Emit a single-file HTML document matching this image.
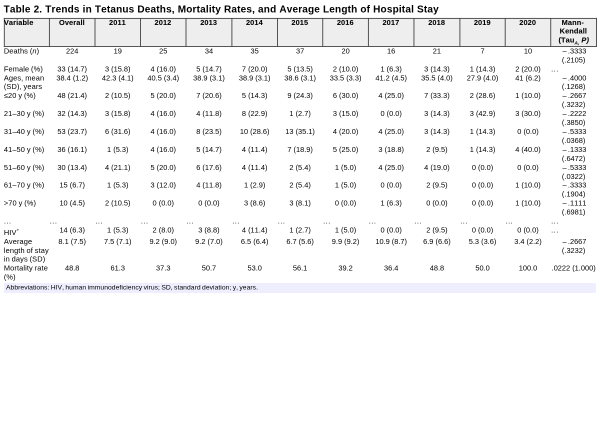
<!DOCTYPE html>
<html>
<head>
<meta charset="utf-8">
<title>Table 2</title>
<style>
html,body{margin:0;padding:0;background:#fff;}
body{width:600px;height:436px;position:relative;overflow:hidden;font-family:"Liberation Sans",sans-serif;color:#000;font-kerning:none;}
.footbg{position:absolute;left:3.9px;top:282.55px;width:592.4px;height:10.25px;background:#eeeefe;}
.lay{will-change:transform;position:absolute;overflow:hidden;transform-origin:0 0;transform:scale(0.5);}
.lay div,.lay svg{position:absolute;}
.lay svg{left:0;top:0;}
.title{font-size:20px;font-weight:bold;white-space:pre;color:#000;letter-spacing:0.36px;line-height:22px;}
.hd{-webkit-text-stroke:0.1px #000;font-weight:bold;font-size:14.8px;line-height:16px;text-align:center;color:#000;white-space:nowrap;letter-spacing:0.2px;}
.hd.first{text-align:left;}
.hd sub{font-size:9.2px;vertical-align:-3.6px;line-height:0;font-style:italic;}
.c{-webkit-text-stroke:0px #000;font-size:14.8px;line-height:16px;text-align:center;white-space:nowrap;letter-spacing:0px;}
.c.l{text-align:left;letter-spacing:0.24px;word-spacing:-0.7px;}
.c.d{letter-spacing:1px;}
.c sup{font-size:9.6px;vertical-align:6.8px;line-height:0;}
.m{letter-spacing:2.6px;}
.ft{font-size:13.5px;line-height:15px;white-space:pre;letter-spacing:0.08px;word-spacing:-1.1px;}
</style>
</head>
<body>
<div class="footbg"></div>
<div class="lay" style="left:0px;top:17px;width:186px;height:222px">
<svg width="186" height="222" viewBox="0 17 93 111"><rect x="4.3" y="18.4" width="88.7" height="28.05" fill="#eeeeee"/><rect x="3.85" y="17.95" width="89.15" height="0.9" fill="#444444"/><rect x="3.85" y="46" width="89.15" height="0.9" fill="#444444"/><rect x="3.85" y="17.95" width="0.9" height="28.95" fill="#444444"/><rect x="48.95" y="17.95" width="0.9" height="28.95" fill="#444444"/></svg>
<div class="hd first" style="left:7.7px;top:3px;width:90.2px">Variable</div>
<div class="hd" style="left:98.2px;top:3px;width:91.2px">Overall</div>
<div class="c l" style="left:7.7px;top:60px;width:90.2px">Deaths (<i>n</i>)</div>
<div class="c" style="left:98.8px;top:60px;width:91.2px">224</div>
<div class="c l" style="left:7.7px;top:96px;width:90.2px">Female (%)</div>
<div class="c" style="left:98.8px;top:96px;width:91.2px">33 (14.7)</div>
<div class="c l" style="left:7.7px;top:114px;width:90.2px">Ages, mean</div>
<div class="c l" style="left:7.7px;top:131px;width:90.2px">(SD), years</div>
<div class="c" style="left:98.8px;top:114px;width:91.2px">38.4 (1.2)</div>
<div class="c l" style="left:7.7px;top:149px;width:90.2px">&le;20 y (%)</div>
<div class="c" style="left:98.8px;top:149px;width:91.2px">48 (21.4)</div>
<div class="c l" style="left:7.7px;top:185px;width:90.2px">21&ndash;30 y (%)</div>
<div class="c" style="left:98.8px;top:185px;width:91.2px">32 (14.3)</div>
</div>
<div class="lay" style="left:0px;top:127px;width:186px;height:182px">
<div class="c l" style="left:7.7px;top:1px;width:90.2px">31&ndash;40 y (%)</div>
<div class="c" style="left:98.8px;top:1px;width:91.2px">53 (23.7)</div>
<div class="c l" style="left:7.7px;top:37px;width:90.2px">41&ndash;50 y (%)</div>
<div class="c" style="left:98.8px;top:37px;width:91.2px">36 (16.1)</div>
<div class="c l" style="left:7.7px;top:73px;width:90.2px">51&ndash;60 y (%)</div>
<div class="c" style="left:98.8px;top:73px;width:91.2px">30 (13.4)</div>
<div class="c l" style="left:7.7px;top:108px;width:90.2px">61&ndash;70 y (%)</div>
<div class="c" style="left:98.8px;top:108px;width:91.2px">15 (6.7)</div>
<div class="c l" style="left:7.7px;top:144px;width:90.2px">&gt;70 y (%)</div>
<div class="c" style="left:98.8px;top:144px;width:91.2px">10 (4.5)</div>
</div>
<div class="lay" style="left:0px;top:216px;width:186px;height:134px">
<div class="c l d" style="left:7.7px;top:2px;width:90.2px">...</div>
<div class="c l d" style="left:99.5px;top:2px;width:91.2px">...</div>
<div class="c l" style="left:7.7px;top:25px;width:90.2px">HIV<sup>+</sup></div>
<div class="c" style="left:98.8px;top:20px;width:91.2px">14 (6.3)</div>
<div class="c l" style="left:7.7px;top:43px;width:90.2px">Average</div>
<div class="c l" style="left:7.7px;top:61px;width:90.2px">length of stay</div>
<div class="c l" style="left:7.7px;top:78px;width:90.2px">in days (SD)</div>
<div class="c" style="left:98.8px;top:43px;width:91.2px">8.1 (7.5)</div>
<div class="c l" style="left:7.7px;top:96px;width:90.2px">Mortality rate</div>
<div class="c l" style="left:7.7px;top:114px;width:90.2px">(%)</div>
<div class="c" style="left:98.8px;top:96px;width:91.2px">48.8</div>
</div>
<div class="lay" style="left:93px;top:17px;width:182px;height:222px">
<svg width="182" height="222" viewBox="93 17 91 111"><rect x="93" y="18.4" width="91" height="28.05" fill="#eeeeee"/><rect x="93" y="17.95" width="91" height="0.9" fill="#444444"/><rect x="93" y="46" width="91" height="0.9" fill="#444444"/><rect x="94.55" y="17.95" width="0.9" height="28.95" fill="#444444"/><rect x="140.05" y="17.95" width="0.9" height="28.95" fill="#444444"/></svg>
<div class="hd" style="left:3.4px;top:3px;width:91px">2011</div>
<div class="hd" style="left:94.4px;top:3px;width:91px">2012</div>
<div class="c" style="left:4px;top:60px;width:91px">19</div>
<div class="c" style="left:95px;top:60px;width:91px">25</div>
<div class="c" style="left:4px;top:96px;width:91px">3 (15.8)</div>
<div class="c" style="left:95px;top:96px;width:91px">4 (16.0)</div>
<div class="c" style="left:4px;top:114px;width:91px">42.3 (4.1)</div>
<div class="c" style="left:95px;top:114px;width:91px">40.5 (3.4)</div>
<div class="c" style="left:4px;top:149px;width:91px">2 (10.5)</div>
<div class="c" style="left:95px;top:149px;width:91px">5 (20.0)</div>
<div class="c" style="left:4px;top:185px;width:91px">3 (15.8)</div>
<div class="c" style="left:95px;top:185px;width:91px">4 (16.0)</div>
</div>
<div class="lay" style="left:93px;top:127px;width:182px;height:182px">
<div class="c" style="left:4px;top:1px;width:91px">6 (31.6)</div>
<div class="c" style="left:95px;top:1px;width:91px">4 (16.0)</div>
<div class="c" style="left:4px;top:37px;width:91px">1 (5.3)</div>
<div class="c" style="left:95px;top:37px;width:91px">4 (16.0)</div>
<div class="c" style="left:4px;top:73px;width:91px">4 (21.1)</div>
<div class="c" style="left:95px;top:73px;width:91px">5 (20.0)</div>
<div class="c" style="left:4px;top:108px;width:91px">1 (5.3)</div>
<div class="c" style="left:95px;top:108px;width:91px">3 (12.0)</div>
<div class="c" style="left:4px;top:144px;width:91px">2 (10.5)</div>
<div class="c" style="left:95px;top:144px;width:91px">0 (0.0)</div>
</div>
<div class="lay" style="left:93px;top:216px;width:182px;height:134px">
<div class="c l d" style="left:4.7px;top:2px;width:91px">...</div>
<div class="c l d" style="left:95.7px;top:2px;width:91px">...</div>
<div class="c" style="left:4px;top:20px;width:91px">1 (5.3)</div>
<div class="c" style="left:95px;top:20px;width:91px">2 (8.0)</div>
<div class="c" style="left:4px;top:43px;width:91px">7.5 (7.1)</div>
<div class="c" style="left:95px;top:43px;width:91px">9.2 (9.0)</div>
<div class="c" style="left:4px;top:96px;width:91px">61.3</div>
<div class="c" style="left:95px;top:96px;width:91px">37.3</div>
</div>
<div class="lay" style="left:184px;top:17px;width:182px;height:222px">
<svg width="182" height="222" viewBox="184 17 91 111"><rect x="184" y="18.4" width="91" height="28.05" fill="#eeeeee"/><rect x="184" y="17.95" width="91" height="0.9" fill="#444444"/><rect x="184" y="46" width="91" height="0.9" fill="#444444"/><rect x="185.55" y="17.95" width="0.9" height="28.95" fill="#444444"/><rect x="231.45" y="17.95" width="0.9" height="28.95" fill="#444444"/></svg>
<div class="hd" style="left:3.4px;top:3px;width:91.8px">2013</div>
<div class="hd" style="left:95.2px;top:3px;width:91.1px">2014</div>
<div class="c" style="left:4px;top:60px;width:91.8px">34</div>
<div class="c" style="left:95.8px;top:60px;width:91.1px">35</div>
<div class="c" style="left:4px;top:96px;width:91.8px">5 (14.7)</div>
<div class="c" style="left:95.8px;top:96px;width:91.1px">7 (20.0)</div>
<div class="c" style="left:4px;top:114px;width:91.8px">38.9 (3.1)</div>
<div class="c" style="left:95.8px;top:114px;width:91.1px">38.9 (3.1)</div>
<div class="c" style="left:4px;top:149px;width:91.8px">7 (20.6)</div>
<div class="c" style="left:95.8px;top:149px;width:91.1px">5 (14.3)</div>
<div class="c" style="left:4px;top:185px;width:91.8px">4 (11.8)</div>
<div class="c" style="left:95.8px;top:185px;width:91.1px">8 (22.9)</div>
</div>
<div class="lay" style="left:184px;top:127px;width:182px;height:182px">
<div class="c" style="left:4px;top:1px;width:91.8px">8 (23.5)</div>
<div class="c" style="left:95.8px;top:1px;width:91.1px">10 (28.6)</div>
<div class="c" style="left:4px;top:37px;width:91.8px">5 (14.7)</div>
<div class="c" style="left:95.8px;top:37px;width:91.1px">4 (11.4)</div>
<div class="c" style="left:4px;top:73px;width:91.8px">6 (17.6)</div>
<div class="c" style="left:95.8px;top:73px;width:91.1px">4 (11.4)</div>
<div class="c" style="left:4px;top:108px;width:91.8px">4 (11.8)</div>
<div class="c" style="left:95.8px;top:108px;width:91.1px">1 (2.9)</div>
<div class="c" style="left:4px;top:144px;width:91.8px">0 (0.0)</div>
<div class="c" style="left:95.8px;top:144px;width:91.1px">3 (8.6)</div>
</div>
<div class="lay" style="left:184px;top:216px;width:182px;height:134px">
<div class="c l d" style="left:4.7px;top:2px;width:91.8px">...</div>
<div class="c l d" style="left:96.5px;top:2px;width:91.1px">...</div>
<div class="c" style="left:4px;top:20px;width:91.8px">3 (8.8)</div>
<div class="c" style="left:95.8px;top:20px;width:91.1px">4 (11.4)</div>
<div class="c" style="left:4px;top:43px;width:91.8px">9.2 (7.0)</div>
<div class="c" style="left:95.8px;top:43px;width:91.1px">6.5 (6.4)</div>
<div class="c" style="left:4px;top:96px;width:91.8px">50.7</div>
<div class="c" style="left:95.8px;top:96px;width:91.1px">53.0</div>
</div>
<div class="lay" style="left:275px;top:17px;width:182px;height:222px">
<svg width="182" height="222" viewBox="275 17 91 111"><rect x="275" y="18.4" width="91" height="28.05" fill="#eeeeee"/><rect x="275" y="17.95" width="91" height="0.9" fill="#444444"/><rect x="275" y="46" width="91" height="0.9" fill="#444444"/><rect x="277" y="17.95" width="0.9" height="28.95" fill="#444444"/><rect x="322.3" y="17.95" width="0.9" height="28.95" fill="#444444"/></svg>
<div class="hd" style="left:4.3px;top:3px;width:90.6px">2015</div>
<div class="hd" style="left:94.9px;top:3px;width:91.3px">2016</div>
<div class="c" style="left:4.9px;top:60px;width:90.6px">37</div>
<div class="c" style="left:95.5px;top:60px;width:91.3px">20</div>
<div class="c" style="left:4.9px;top:96px;width:90.6px">5 (13.5)</div>
<div class="c" style="left:95.5px;top:96px;width:91.3px">2 (10.0)</div>
<div class="c" style="left:4.9px;top:114px;width:90.6px">38.6 (3.1)</div>
<div class="c" style="left:95.5px;top:114px;width:91.3px">33.5 (3.3)</div>
<div class="c" style="left:4.9px;top:149px;width:90.6px">9 (24.3)</div>
<div class="c" style="left:95.5px;top:149px;width:91.3px">6 (30.0)</div>
<div class="c" style="left:4.9px;top:185px;width:90.6px">1 (2.7)</div>
<div class="c" style="left:95.5px;top:185px;width:91.3px">3 (15.0)</div>
</div>
<div class="lay" style="left:275px;top:127px;width:182px;height:182px">
<div class="c" style="left:4.9px;top:1px;width:90.6px">13 (35.1)</div>
<div class="c" style="left:95.5px;top:1px;width:91.3px">4 (20.0)</div>
<div class="c" style="left:4.9px;top:37px;width:90.6px">7 (18.9)</div>
<div class="c" style="left:95.5px;top:37px;width:91.3px">5 (25.0)</div>
<div class="c" style="left:4.9px;top:73px;width:90.6px">2 (5.4)</div>
<div class="c" style="left:95.5px;top:73px;width:91.3px">1 (5.0)</div>
<div class="c" style="left:4.9px;top:108px;width:90.6px">2 (5.4)</div>
<div class="c" style="left:95.5px;top:108px;width:91.3px">1 (5.0)</div>
<div class="c" style="left:4.9px;top:144px;width:90.6px">3 (8.1)</div>
<div class="c" style="left:95.5px;top:144px;width:91.3px">0 (0.0)</div>
</div>
<div class="lay" style="left:275px;top:216px;width:182px;height:134px">
<div class="c l d" style="left:5.6px;top:2px;width:90.6px">...</div>
<div class="c l d" style="left:96.2px;top:2px;width:91.3px">...</div>
<div class="c" style="left:4.9px;top:20px;width:90.6px">1 (2.7)</div>
<div class="c" style="left:95.5px;top:20px;width:91.3px">1 (5.0)</div>
<div class="c" style="left:4.9px;top:43px;width:90.6px">6.7 (5.6)</div>
<div class="c" style="left:95.5px;top:43px;width:91.3px">9.9 (9.2)</div>
<div class="c" style="left:4.9px;top:96px;width:90.6px">56.1</div>
<div class="c" style="left:95.5px;top:96px;width:91.3px">39.2</div>
</div>
<div class="lay" style="left:366px;top:17px;width:182px;height:222px">
<svg width="182" height="222" viewBox="366 17 91 111"><rect x="366" y="18.4" width="91" height="28.05" fill="#eeeeee"/><rect x="366" y="17.95" width="91" height="0.9" fill="#444444"/><rect x="366" y="46" width="91" height="0.9" fill="#444444"/><rect x="367.95" y="17.95" width="0.9" height="28.95" fill="#444444"/><rect x="413.5" y="17.95" width="0.9" height="28.95" fill="#444444"/></svg>
<div class="hd" style="left:4.2px;top:3px;width:91.1px">2017</div>
<div class="hd" style="left:95.3px;top:3px;width:91.9px">2018</div>
<div class="c" style="left:4.8px;top:60px;width:91.1px">16</div>
<div class="c" style="left:95.9px;top:60px;width:91.9px">21</div>
<div class="c" style="left:4.8px;top:96px;width:91.1px">1 (6.3)</div>
<div class="c" style="left:95.9px;top:96px;width:91.9px">3 (14.3)</div>
<div class="c" style="left:4.8px;top:114px;width:91.1px">41.2 (4.5)</div>
<div class="c" style="left:95.9px;top:114px;width:91.9px">35.5 (4.0)</div>
<div class="c" style="left:4.8px;top:149px;width:91.1px">4 (25.0)</div>
<div class="c" style="left:95.9px;top:149px;width:91.9px">7 (33.3)</div>
<div class="c" style="left:4.8px;top:185px;width:91.1px">0 (0.0)</div>
<div class="c" style="left:95.9px;top:185px;width:91.9px">3 (14.3)</div>
</div>
<div class="lay" style="left:366px;top:127px;width:182px;height:182px">
<div class="c" style="left:4.8px;top:1px;width:91.1px">4 (25.0)</div>
<div class="c" style="left:95.9px;top:1px;width:91.9px">3 (14.3)</div>
<div class="c" style="left:4.8px;top:37px;width:91.1px">3 (18.8)</div>
<div class="c" style="left:95.9px;top:37px;width:91.9px">2 (9.5)</div>
<div class="c" style="left:4.8px;top:73px;width:91.1px">4 (25.0)</div>
<div class="c" style="left:95.9px;top:73px;width:91.9px">4 (19.0)</div>
<div class="c" style="left:4.8px;top:108px;width:91.1px">0 (0.0)</div>
<div class="c" style="left:95.9px;top:108px;width:91.9px">2 (9.5)</div>
<div class="c" style="left:4.8px;top:144px;width:91.1px">1 (6.3)</div>
<div class="c" style="left:95.9px;top:144px;width:91.9px">0 (0.0)</div>
</div>
<div class="lay" style="left:366px;top:216px;width:182px;height:134px">
<div class="c l d" style="left:5.5px;top:2px;width:91.1px">...</div>
<div class="c l d" style="left:96.6px;top:2px;width:91.9px">...</div>
<div class="c" style="left:4.8px;top:20px;width:91.1px">0 (0.0)</div>
<div class="c" style="left:95.9px;top:20px;width:91.9px">2 (9.5)</div>
<div class="c" style="left:4.8px;top:43px;width:91.1px">10.9 (8.7)</div>
<div class="c" style="left:95.9px;top:43px;width:91.9px">6.9 (6.6)</div>
<div class="c" style="left:4.8px;top:96px;width:91.1px">36.4</div>
<div class="c" style="left:95.9px;top:96px;width:91.9px">48.8</div>
</div>
<div class="lay" style="left:457px;top:17px;width:182px;height:222px">
<svg width="182" height="222" viewBox="457 17 91 111"><rect x="457" y="18.4" width="91" height="28.05" fill="#eeeeee"/><rect x="457" y="17.95" width="91" height="0.9" fill="#444444"/><rect x="457" y="46" width="91" height="0.9" fill="#444444"/><rect x="459.45" y="17.95" width="0.9" height="28.95" fill="#444444"/><rect x="504.75" y="17.95" width="0.9" height="28.95" fill="#444444"/></svg>
<div class="hd" style="left:5.2px;top:3px;width:90.6px">2019</div>
<div class="hd" style="left:95.8px;top:3px;width:91.1px">2020</div>
<div class="c" style="left:5.8px;top:60px;width:90.6px">7</div>
<div class="c" style="left:96.4px;top:60px;width:91.1px">10</div>
<div class="c" style="left:5.8px;top:96px;width:90.6px">1 (14.3)</div>
<div class="c" style="left:96.4px;top:96px;width:91.1px">2 (20.0)</div>
<div class="c" style="left:5.8px;top:114px;width:90.6px">27.9 (4.0)</div>
<div class="c" style="left:96.4px;top:114px;width:91.1px">41 (6.2)</div>
<div class="c" style="left:5.8px;top:149px;width:90.6px">2 (28.6)</div>
<div class="c" style="left:96.4px;top:149px;width:91.1px">1 (10.0)</div>
<div class="c" style="left:5.8px;top:185px;width:90.6px">3 (42.9)</div>
<div class="c" style="left:96.4px;top:185px;width:91.1px">3 (30.0)</div>
</div>
<div class="lay" style="left:457px;top:127px;width:182px;height:182px">
<div class="c" style="left:5.8px;top:1px;width:90.6px">1 (14.3)</div>
<div class="c" style="left:96.4px;top:1px;width:91.1px">0 (0.0)</div>
<div class="c" style="left:5.8px;top:37px;width:90.6px">1 (14.3)</div>
<div class="c" style="left:96.4px;top:37px;width:91.1px">4 (40.0)</div>
<div class="c" style="left:5.8px;top:73px;width:90.6px">0 (0.0)</div>
<div class="c" style="left:96.4px;top:73px;width:91.1px">0 (0.0)</div>
<div class="c" style="left:5.8px;top:108px;width:90.6px">0 (0.0)</div>
<div class="c" style="left:96.4px;top:108px;width:91.1px">1 (10.0)</div>
<div class="c" style="left:5.8px;top:144px;width:90.6px">0 (0.0)</div>
<div class="c" style="left:96.4px;top:144px;width:91.1px">1 (10.0)</div>
</div>
<div class="lay" style="left:457px;top:216px;width:182px;height:134px">
<div class="c l d" style="left:6.5px;top:2px;width:90.6px">...</div>
<div class="c l d" style="left:97.1px;top:2px;width:91.1px">...</div>
<div class="c" style="left:5.8px;top:20px;width:90.6px">0 (0.0)</div>
<div class="c" style="left:96.4px;top:20px;width:91.1px">0 (0.0)</div>
<div class="c" style="left:5.8px;top:43px;width:90.6px">5.3 (3.6)</div>
<div class="c" style="left:96.4px;top:43px;width:91.1px">3.4 (2.2)</div>
<div class="c" style="left:5.8px;top:96px;width:90.6px">50.0</div>
<div class="c" style="left:96.4px;top:96px;width:91.1px">100.0</div>
</div>
<div class="lay" style="left:548px;top:17px;width:104px;height:222px">
<svg width="104" height="222" viewBox="548 17 52 111"><rect x="548" y="18.4" width="48.55" height="28.05" fill="#eeeeee"/><rect x="548" y="17.95" width="49" height="0.9" fill="#444444"/><rect x="548" y="46" width="49" height="0.9" fill="#444444"/><rect x="550.3" y="17.95" width="0.9" height="28.95" fill="#444444"/><rect x="596.1" y="17.95" width="0.9" height="28.95" fill="#444444"/></svg>
<div class="hd" style="left:3.7px;top:3px;width:91.6px">Mann-</div>
<div class="hd" style="left:4.9px;top:20px;width:91.6px">Kendall</div>
<div class="hd" style="left:5.7px;top:38px;width:91.6px">(Tau<sub>A,</sub> <i>P)</i></div>
<div class="c" style="left:7.1px;top:60px;width:91.6px"><span class="m">&ndash;</span>.3333</div>
<div class="c" style="left:5.5px;top:78px;width:91.6px">(.2105)</div>
<div class="c l d" style="left:6.2px;top:96px;width:91.6px">...</div>
<div class="c" style="left:7.1px;top:114px;width:91.6px"><span class="m">&ndash;</span>.4000</div>
<div class="c" style="left:5.5px;top:131px;width:91.6px">(.1268)</div>
<div class="c" style="left:7.1px;top:149px;width:91.6px"><span class="m">&ndash;</span>.2667</div>
<div class="c" style="left:5.5px;top:167px;width:91.6px">(.3232)</div>
<div class="c" style="left:7.1px;top:185px;width:91.6px"><span class="m">&ndash;</span>.2222</div>
<div class="c" style="left:5.5px;top:203px;width:91.6px">(.3850)</div>
</div>
<div class="lay" style="left:548px;top:127px;width:104px;height:182px">
<div class="c" style="left:7.1px;top:1px;width:91.6px"><span class="m">&ndash;</span>.5333</div>
<div class="c" style="left:5.5px;top:19px;width:91.6px">(.0368)</div>
<div class="c" style="left:7.1px;top:37px;width:91.6px"><span class="m">&ndash;</span>.1333</div>
<div class="c" style="left:5.5px;top:55px;width:91.6px">(.6472)</div>
<div class="c" style="left:7.1px;top:73px;width:91.6px"><span class="m">&ndash;</span>.5333</div>
<div class="c" style="left:5.5px;top:91px;width:91.6px">(.0322)</div>
<div class="c" style="left:7.1px;top:108px;width:91.6px"><span class="m">&ndash;</span>.3333</div>
<div class="c" style="left:5.5px;top:126px;width:91.6px">(.1904)</div>
<div class="c" style="left:7.1px;top:144px;width:91.6px"><span class="m">&ndash;</span>.1111</div>
<div class="c" style="left:5.5px;top:162px;width:91.6px">(.6981)</div>
</div>
<div class="lay" style="left:548px;top:216px;width:104px;height:134px">
<div class="c l d" style="left:6.2px;top:2px;width:91.6px">...</div>
<div class="c l d" style="left:6.2px;top:20px;width:91.6px">...</div>
<div class="c" style="left:7.1px;top:43px;width:91.6px"><span class="m">&ndash;</span>.2667</div>
<div class="c" style="left:5.5px;top:61px;width:91.6px">(.3232)</div>
<div class="c" style="left:5.5px;top:96px;width:91.6px">.0222 (1.000)</div>
</div>
<div class="lay" style="left:2px;top:0px;width:190px;height:34px">
<div class="title" style="left:3.2px;top:7px">Table 2. Trends in </div>
</div>
<div class="lay" style="left:93px;top:0px;width:172px;height:34px">
<div class="title" style="left:3.67px;top:7px">Tetanus Deaths, </div>
</div>
<div class="lay" style="left:176px;top:0px;width:210px;height:34px">
<div class="title" style="left:3.48px;top:7px">Mortality Rates, and </div>
</div>
<div class="lay" style="left:278px;top:0px;width:194px;height:34px">
<div class="title" style="left:2.65px;top:7px">Average Length of </div>
</div>
<div class="lay" style="left:372px;top:0px;width:138px;height:34px">
<div class="title" style="left:2.28px;top:7px">Hospital Stay</div>
</div>
<div class="lay" style="left:5px;top:281px;width:170px;height:26px">
<div class="ft" style="left:2px;top:5px">Abbreviations: HIV, human </div>
</div>
<div class="lay" style="left:86px;top:281px;width:236px;height:26px">
<div class="ft" style="left:3.14px;top:5px">immunodeficiency virus; SD, standard </div>
</div>
<div class="lay" style="left:201px;top:281px;width:118px;height:26px">
<div class="ft" style="left:2.08px;top:5px">deviation; y, years.</div>
</div>
</body>
</html>
